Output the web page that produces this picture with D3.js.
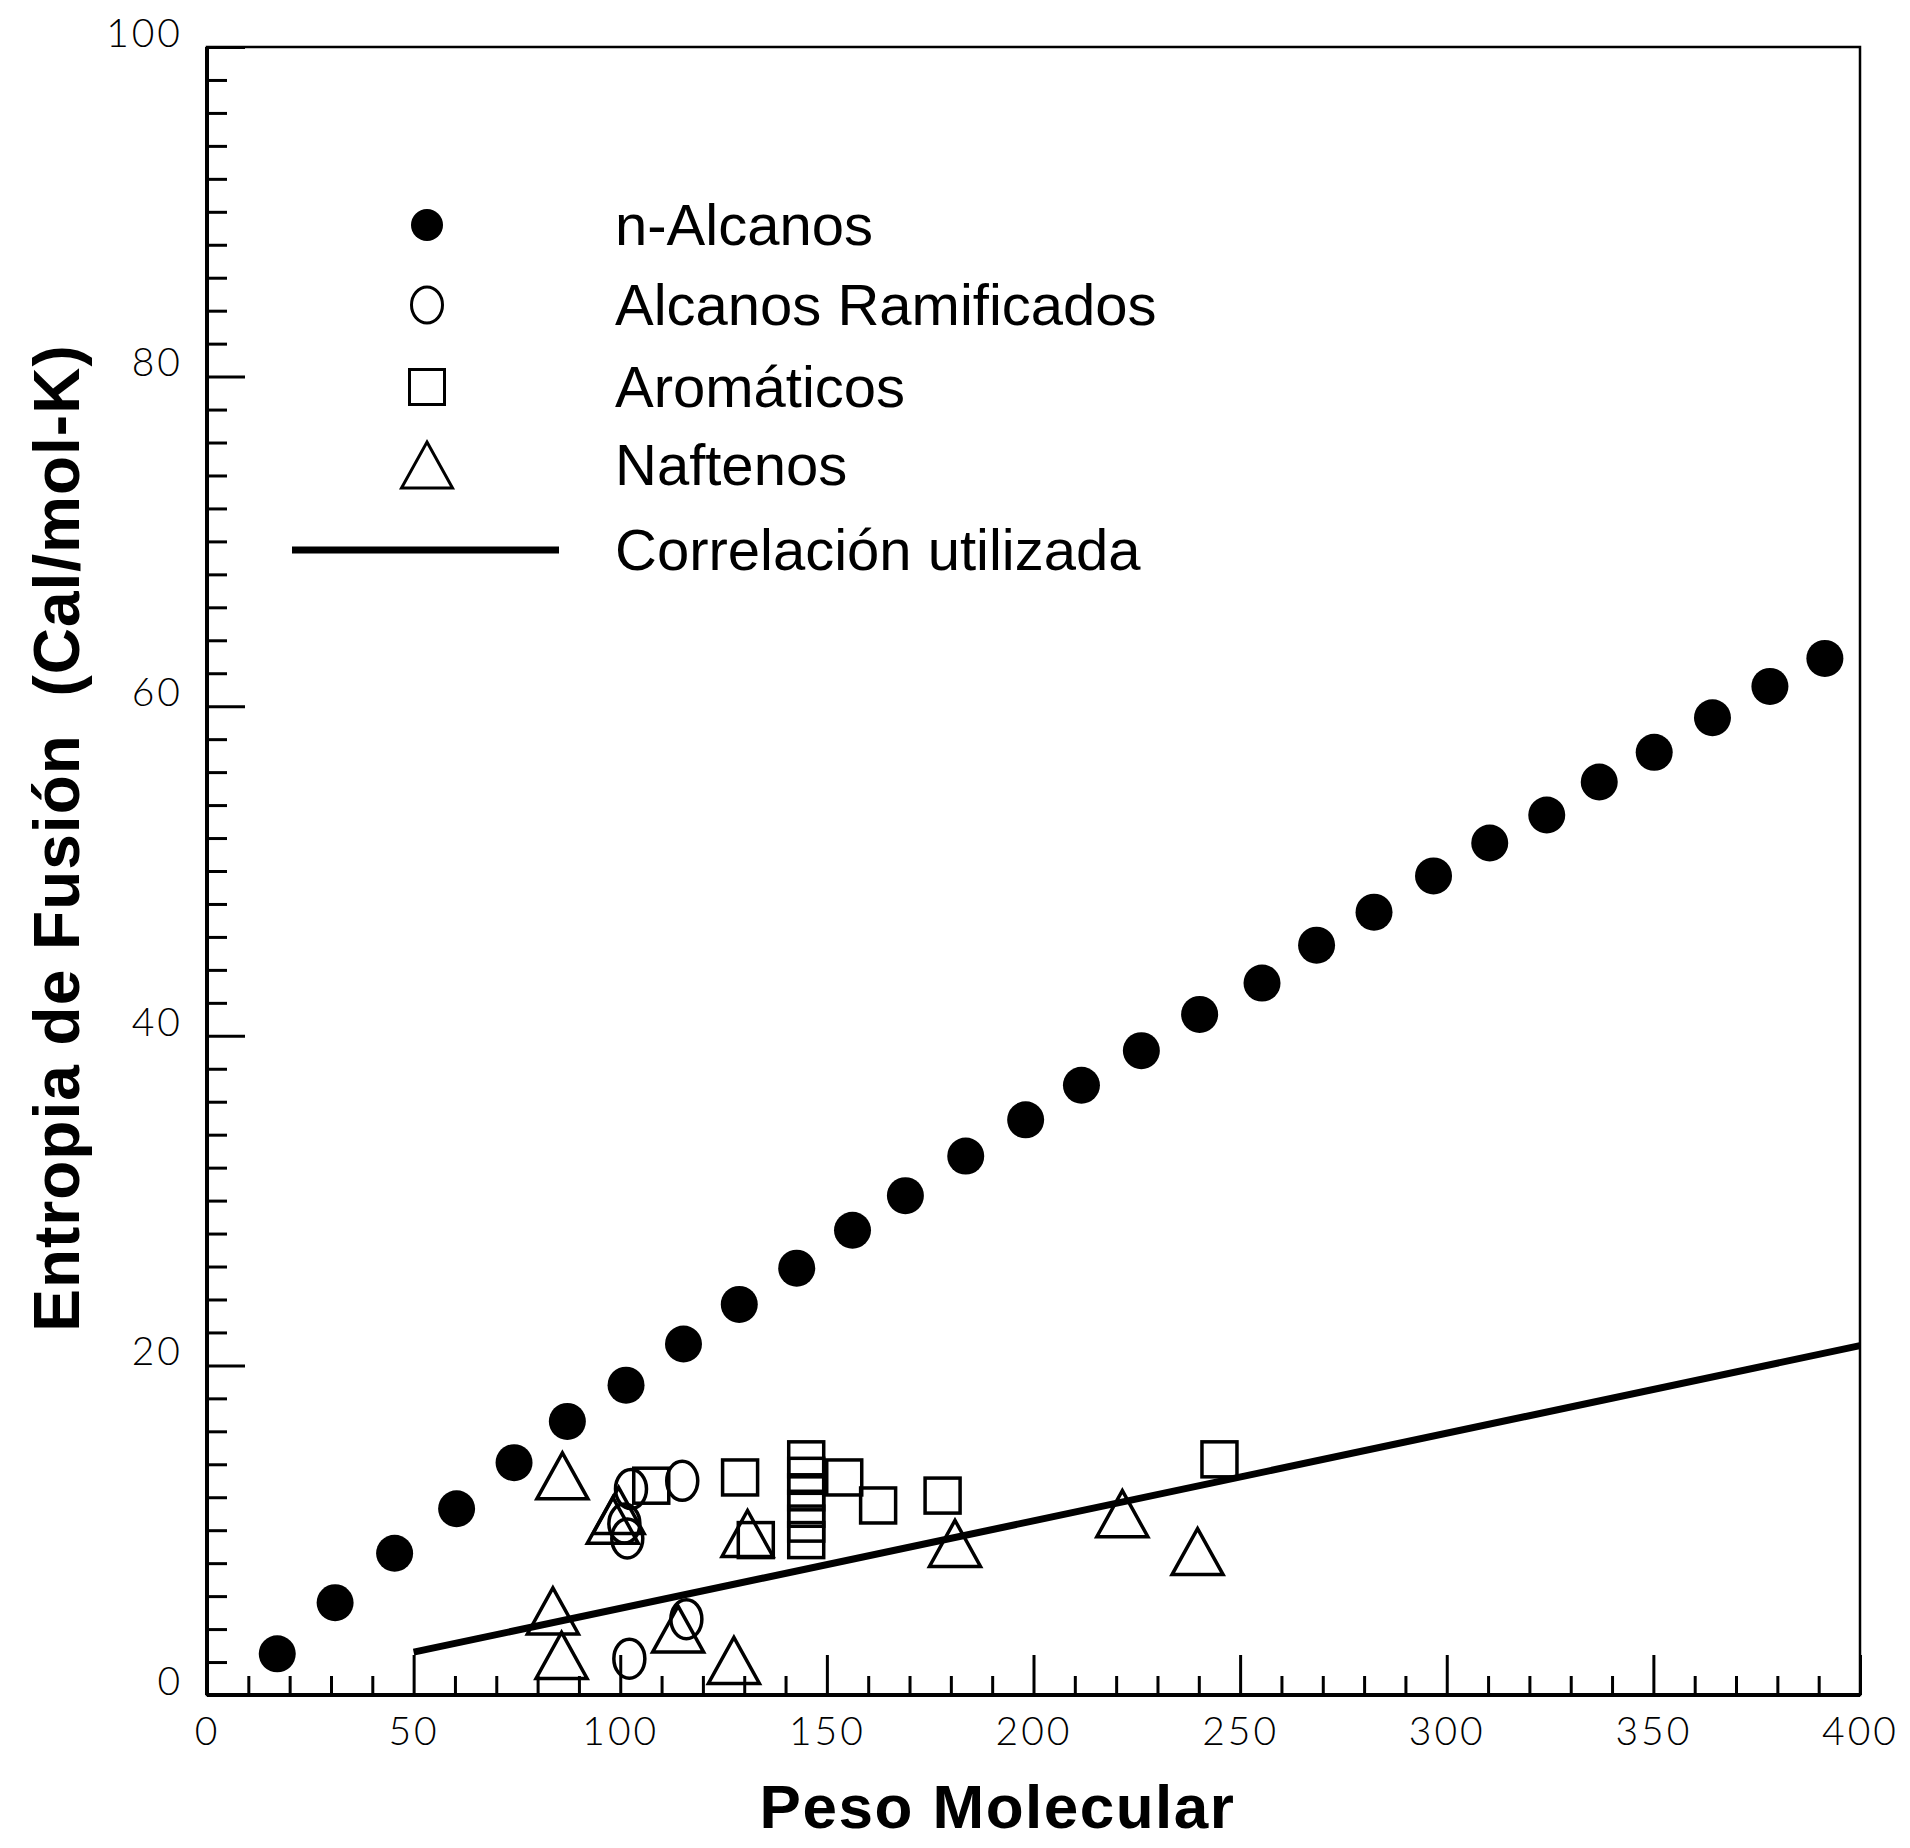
<!DOCTYPE html>
<html>
<head>
<meta charset="utf-8">
<title>Entropia de Fusion vs Peso Molecular</title>
<script src="https://d3js.org/d3.v7.min.js"></script>
<style>
  body { margin: 0; background: #fff; }
  .tick text { font-family: "Lato", "Liberation Sans", sans-serif; font-weight: 300; }
  .legend text { font-family: "Liberation Sans", Arial, sans-serif; }
  .title { font-family: "Liberation Sans", Arial, sans-serif; font-weight: bold; }
</style>
</head>
<body>
<svg id="chart" width="1910" height="1848"></svg>
<script>
// n-Alcanos (filled circles)
var alcanosX = [17, 31, 45.4, 60.4, 74.3, 87.2, 101.4, 115.3, 128.8, 142.7, 156.2, 169, 183.6, 198.1,
                211.6, 226.1, 240.2, 255.3, 268.5, 282.4, 296.8, 310.4, 324.2, 336.9, 350.2, 364.3, 378.2, 391.5];
var alcanosY = [2.5, 5.6, 8.6, 11.3, 14.1, 16.6, 18.8, 21.3, 23.7, 25.9, 28.2, 30.3, 32.7, 34.9,
                37.0, 39.1, 41.3, 43.2, 45.5, 47.5, 49.7, 51.7, 53.4, 55.4, 57.2, 59.3, 61.2, 62.9];

// Alcanos ramificados (open circles)
var ramifX = [102.6, 101.7, 101, 115, 102.2, 116];
var ramifY = [12.5, 9.5, 10.4, 13.0, 2.2, 4.6];

// Aromaticos (open squares)
var aromX = [107.5, 129, 132.8, 145, 145, 145, 145, 145, 145, 154.2, 162.4, 178, 245];
var aromY = [12.7, 13.2, 9.4, 14.3, 13.3, 12.3, 11.3, 10.4, 9.4, 13.2, 11.5, 12.1, 14.3];

// Naftenos (open triangles)
var naftX = [86, 98.2, 99.6, 83.7, 85.8, 114, 127.5, 130.8, 181, 221.5, 239.7];
var naftY = [13.3, 10.6, 11.2, 5.1, 2.4, 4.0, 2.1, 9.8, 9.2, 11.0, 8.7];

// Correlacion utilizada
var corrX = [50, 400];
var corrY = [2.6, 21.2];

var xMajor = [0, 50, 100, 150, 200, 250, 300, 350, 400];
var yMajor = [0, 20, 40, 60, 80, 100];

var legendLabels = ["n-Alcanos", "Alcanos Ramificados", "Arom\u00e1ticos", "Naftenos", "Correlaci\u00f3n utilizada"];

var margin = {left: 207, top: 47, right: 50, bottom: 153};
var W = 1910 - margin.left - margin.right;
var H = 1848 - margin.top - margin.bottom;

var svg = d3.select("#chart");
var g = svg.append("g").attr("transform", "translate(" + margin.left + "," + margin.top + ")");

var x = d3.scaleLinear().domain([0, 400]).range([0, W]);
var y = d3.scaleLinear().domain([0, 100]).range([H, 0]);

// minor ticks
g.append("g").attr("transform", "translate(0," + H + ")")
  .call(d3.axisBottom(x).tickValues(d3.range(10, 400, 10).filter(function(v){ return v % 50 != 0; }))
        .tickSize(-19).tickFormat(""))
  .call(function(a){ a.select(".domain").remove(); a.selectAll("line").attr("stroke-width", 3); });
g.append("g")
  .call(d3.axisLeft(y).tickValues(d3.range(2, 100, 2).filter(function(v){ return v % 20 != 0; }))
        .tickSize(-20).tickFormat(""))
  .call(function(a){ a.select(".domain").remove(); a.selectAll("line").attr("stroke-width", 3); });

// major ticks with labels
g.append("g").attr("transform", "translate(0," + H + ")")
  .call(d3.axisBottom(x).tickValues(xMajor).tickSize(-40).tickPadding(22))
  .call(function(a){
    a.select(".domain").remove();
    a.selectAll("line").attr("stroke-width", 3);
    a.selectAll("text").attr("font-size", 39).attr("letter-spacing", 3).attr("fill", "#000");
  });
g.append("g")
  .call(d3.axisLeft(y).tickValues(yMajor).tickSize(-38).tickPadding(24))
  .call(function(a){
    a.select(".domain").remove();
    a.selectAll("line").attr("stroke-width", 3);
    a.selectAll("text").attr("font-size", 39).attr("letter-spacing", 3).attr("dy", "-0.02em").attr("fill", "#000");
  });

// frame
g.append("rect").attr("x", 0).attr("y", 0).attr("width", W).attr("height", H)
  .attr("fill", "none").attr("stroke", "#000").attr("stroke-width", 2.5);
g.append("line").attr("x1", 0).attr("x2", 0).attr("y1", 0).attr("y2", H).attr("stroke", "#000").attr("stroke-width", 4);
g.append("line").attr("x1", 0).attr("x2", W).attr("y1", H).attr("y2", H).attr("stroke", "#000").attr("stroke-width", 4);

// correlation line
var corr = corrX.map(function(v, i){ return [v, corrY[i]]; });
g.append("path").datum(corr)
  .attr("d", d3.line().x(function(d){ return x(d[0]); }).y(function(d){ return y(d[1]); }))
  .attr("stroke", "#000").attr("stroke-width", 7).attr("fill", "none");

var sw = 3.5;
var tri = function(cx, cy){
  return "M" + cx + "," + (cy - 23) + "L" + (cx + 25.5) + "," + (cy + 23) + "L" + (cx - 25.5) + "," + (cy + 23) + "Z";
};

// markers
g.append("g").selectAll("path").data(naftX.map(function(v, i){ return [v, naftY[i]]; })).enter()
  .append("path").attr("d", function(d){ return tri(x(d[0]), y(d[1])); })
  .attr("fill", "none").attr("stroke", "#000").attr("stroke-width", sw).attr("stroke-linejoin", "miter");

g.append("g").selectAll("rect").data(aromX.map(function(v, i){ return [v, aromY[i]]; })).enter()
  .append("rect").attr("x", function(d){ return x(d[0]) - 17.5; }).attr("y", function(d){ return y(d[1]) - 17.5; })
  .attr("width", 35).attr("height", 35)
  .attr("fill", "none").attr("stroke", "#000").attr("stroke-width", sw);

g.append("g").selectAll("ellipse").data(ramifX.map(function(v, i){ return [v, ramifY[i]]; })).enter()
  .append("ellipse").attr("cx", function(d){ return x(d[0]); }).attr("cy", function(d){ return y(d[1]); })
  .attr("rx", 15.5).attr("ry", 19.5)
  .attr("fill", "none").attr("stroke", "#000").attr("stroke-width", sw);

g.append("g").selectAll("circle").data(alcanosX.map(function(v, i){ return [v, alcanosY[i]]; })).enter()
  .append("circle").attr("cx", function(d){ return x(d[0]); }).attr("cy", function(d){ return y(d[1]); })
  .attr("r", 18.5).attr("fill", "#000");

// legend
var leg = svg.append("g").attr("class", "legend");
var rowY = [225, 305, 387, 465, 550];
var sx = 427;
leg.append("circle").attr("cx", sx).attr("cy", rowY[0]).attr("r", 16).attr("fill", "#000");
leg.append("ellipse").attr("cx", sx).attr("cy", rowY[1]).attr("rx", 15.5).attr("ry", 18)
  .attr("fill", "none").attr("stroke", "#000").attr("stroke-width", 3);
leg.append("rect").attr("x", sx - 17.5).attr("y", rowY[2] - 17.5).attr("width", 35).attr("height", 35)
  .attr("fill", "none").attr("stroke", "#000").attr("stroke-width", 3);
leg.append("path").attr("d", tri(sx, rowY[3]))
  .attr("fill", "none").attr("stroke", "#000").attr("stroke-width", 3);
leg.append("line").attr("x1", 292).attr("x2", 559).attr("y1", rowY[4]).attr("y2", rowY[4])
  .attr("stroke", "#000").attr("stroke-width", 7);
leg.selectAll("text").data(legendLabels).enter().append("text")
  .attr("x", 615).attr("y", function(d, i){ return rowY[i]; })
  .attr("dy", "0.35em").attr("font-size", 58).attr("fill", "#000")
  .text(function(d){ return d; });

// axis titles
svg.append("text").attr("class", "title")
  .attr("x", margin.left + W / 2 - 36).attr("y", 1828)
  .attr("text-anchor", "middle").attr("font-size", 62).attr("letter-spacing", 1.5)
  .text("Peso Molecular");
svg.append("text").attr("class", "title")
  .attr("transform", "translate(79,838) rotate(-90)")
  .attr("text-anchor", "middle").attr("font-size", 64).attr("letter-spacing", 1)
  .attr("xml:space", "preserve")
  .text("Entropia de Fusi\u00f3n  (Cal/mol-K)");
</script>
</body>
</html>
